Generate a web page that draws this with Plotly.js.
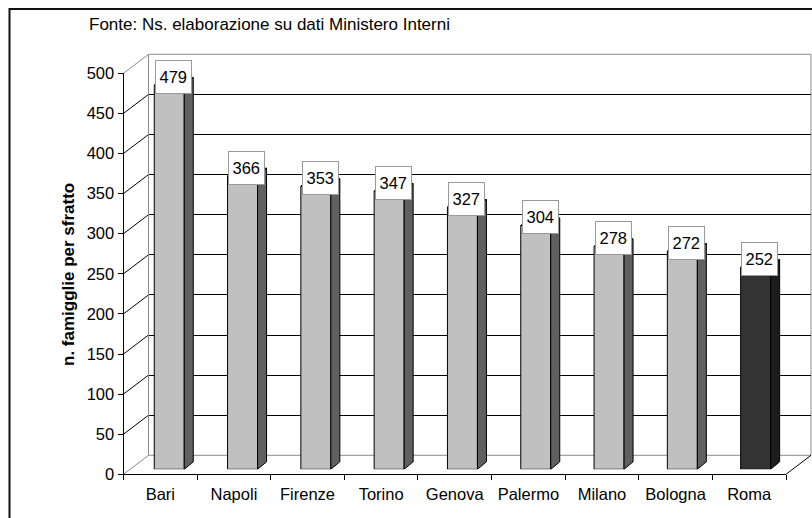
<!DOCTYPE html>
<html><head><meta charset="utf-8">
<script src="https://cdn.plot.ly/plotly-3.0.1.min.js"></script>
<style>html,body{margin:0;padding:0;background:#fff}#chart{width:812px;height:518px}</style>
</head><body><div id="chart"></div>
<script>
// ---- data ----
const cities = ['Bari','Napoli','Firenze','Torino','Genova','Palermo','Milano','Bologna','Roma'];
const families = [479, 366, 353, 347, 327, 304, 278, 272, 252];
const yTicks = [0,50,100,150,200,250,300,350,400,450,500];
const sourceNote = 'Fonte: Ns. elaborazione su dati Ministero Interni';
const yTitle = 'n. famigglie per sfratto';
const highlightCity = 'Roma';

// ---- styling / geometry (pixels) ----
const W = 812, H = 518;
const FONT = 'Liberation Sans, Arial, sans-serif';
const GRAY = '#8c8c8c';
const px = x => x / W, py = y => 1 - y / H;
const F = {x0: 123.5, x1: 786, y0: 474.3, y1: 73.3};       // front axes box
const D = {dx: 25, dy: 19};                                 // depth offset
const B = {x0: F.x0 + D.dx, x1: F.x1 + D.dx, y0: F.y0 - D.dy, y1: F.y1 - D.dy};
const BAR = {x0: 132.6, x1: 792.3, y0: 469.3, y1: 68.3};    // bar plane
const yMax = 500;
const catPx = (BAR.x1 - BAR.x0) / cities.length;
const valPx = (BAR.y0 - BAR.y1) / yMax;
const barW = 30 / catPx;
const sideDx = 9 / catPx, sideDy = 7.5 / valPx;

const yF = v => F.y0 - (F.y0 - F.y1) * v / yMax;
const yB = v => yF(v) - D.dy;

function seg(x0, y0, x1, y1, color, width) {
  return {type: 'line', xref: 'paper', yref: 'paper', layer: 'below',
    x0: px(x0), y0: py(y0), x1: px(x1), y1: py(y1), line: {color: color, width: width || 1}};
}

const shapes = [];
yTicks.forEach(v => {
  const edge = (v === 0 || v === yMax);
  shapes.push(seg(F.x0, yF(v), B.x0, yB(v), edge ? GRAY : '#000', 1));
});
shapes.push(seg(B.x0, yB(0), B.x0, yB(yMax), GRAY));
shapes.push(seg(B.x0, yB(yMax), B.x1, yB(yMax), GRAY));
shapes.push(seg(B.x1, yB(0), B.x1, yB(yMax), GRAY));
shapes.push(seg(B.x0, yB(0), B.x1, yB(0), GRAY));
shapes.push(seg(F.x1, yF(0), B.x1, yB(0), '#000'));
// outer frame
shapes.push({type: 'rect', xref: 'paper', yref: 'paper', layer: 'above',
  x0: px(9.5), y0: py(9), x1: px(W + 30), y1: py(H + 30), line: {color: '#111', width: 2}});

const faceColors = cities.map(c => c === highlightCity ? '#333333' : '#c0c0c0');
const sideColors = cities.map(c => c === highlightCity ? '#1c1c1c' : '#606060');
const topColors  = cities.map(c => c === highlightCity ? '#4a4a4a' : '#dedede');

const traces = [];
// invisible trace to carry the front category axis
traces.push({type: 'scatter', x: cities, y: families, mode: 'markers',
  marker: {opacity: 0}, hoverinfo: 'skip', xaxis: 'x', yaxis: 'y'});
// invisible trace for back wall
traces.push({type: 'scatter', x: [0], y: [0], mode: 'markers',
  marker: {opacity: 0}, hoverinfo: 'skip', xaxis: 'x2', yaxis: 'y2'});

const idx = cities.map((c, i) => i);
traces.push({type: 'bar', x: idx, y: families, width: barW,
  marker: {color: faceColors, line: {color: '#000', width: 1}},
  xaxis: 'x3', yaxis: 'y3', hoverinfo: 'x+y'});

families.forEach((v, i) => {
  const r = i + barW / 2, l = i - barW / 2;
  traces.push({type: 'scatter', mode: 'lines', fill: 'toself',
    x: [r, r + sideDx, r + sideDx, r, r],
    y: [0, sideDy, v + sideDy, v, 0],
    fillcolor: sideColors[i], line: {color: '#000', width: 1},
    hoverinfo: 'skip', xaxis: 'x3', yaxis: 'y3'});
  traces.push({type: 'scatter', mode: 'lines', fill: 'toself',
    x: [l, r, r + sideDx, l + sideDx, l],
    y: [v, v, v + sideDy, v + sideDy, v],
    fillcolor: topColors[i], line: {color: '#000', width: 1},
    hoverinfo: 'skip', xaxis: 'x3', yaxis: 'y3'});
});

const annotations = families.map((v, i) => ({
  xref: 'x3', yref: 'y3', x: i + 4.3 / catPx, y: v + 8 / valPx,
  text: String(v), showarrow: false, bgcolor: '#fff', bordercolor: '#999',
  borderwidth: 1, borderpad: 1, width: 32.5, height: 30,
  font: {family: FONT, size: 16.5, color: '#000'}
}));
annotations.push({xref: 'paper', yref: 'paper', x: px(86.5), y: py(24.5),
  xanchor: 'left', yanchor: 'middle', showarrow: false, text: sourceNote,
  font: {family: FONT, size: 17, color: '#000'}});
annotations.push({xref: 'paper', yref: 'paper', x: px(68), y: py(275),
  xanchor: 'center', yanchor: 'middle', showarrow: false, text: '<b>' + yTitle + '</b>',
  textangle: -90, font: {family: FONT, size: 17, color: '#000'}});

const tickFont = {family: FONT, size: 16.5, color: '#000'};
const layout = {
  width: W, height: H, margin: {l: 0, r: 0, t: 0, b: 0},
  paper_bgcolor: '#fff', plot_bgcolor: 'rgba(0,0,0,0)', showlegend: false,
  xaxis: {domain: [px(F.x0), px(F.x1)], anchor: 'y', type: 'category',
    range: [-0.5, cities.length - 0.5], tickson: 'boundaries', ticks: 'outside',
    ticklen: 5, tickcolor: '#000', showline: true, linecolor: '#000', linewidth: 1,
    showgrid: false, zeroline: false, tickfont: tickFont, ticklabelstandoff: 5, fixedrange: true},
  yaxis: {domain: [py(F.y0), py(F.y1)], anchor: 'x', range: [0, yMax],
    tickvals: yTicks, ticks: 'outside', ticklen: 5, tickcolor: '#000',
    showline: true, linecolor: '#000', linewidth: 1, showgrid: false, zeroline: false,
    tickfont: tickFont, fixedrange: true},
  xaxis2: {domain: [px(B.x0), px(B.x1)], anchor: 'y2', range: [0, 1], visible: false},
  yaxis2: {domain: [py(B.y0), py(B.y1)], anchor: 'x2', range: [0, yMax],
    tickvals: yTicks.slice(1, -1), showgrid: true, gridcolor: '#000', gridwidth: 1,
    showticklabels: false, ticks: '', showline: false, zeroline: false},
  xaxis3: {domain: [px(BAR.x0), px(BAR.x1)], anchor: 'y3', range: [-0.5, cities.length - 0.5], visible: false},
  yaxis3: {domain: [py(BAR.y0), py(BAR.y1)], anchor: 'x3', range: [0, yMax], visible: false},
  shapes: shapes, annotations: annotations
};
Plotly.newPlot('chart', traces, layout, {displayModeBar: false, staticPlot: true});
</script></body></html>
